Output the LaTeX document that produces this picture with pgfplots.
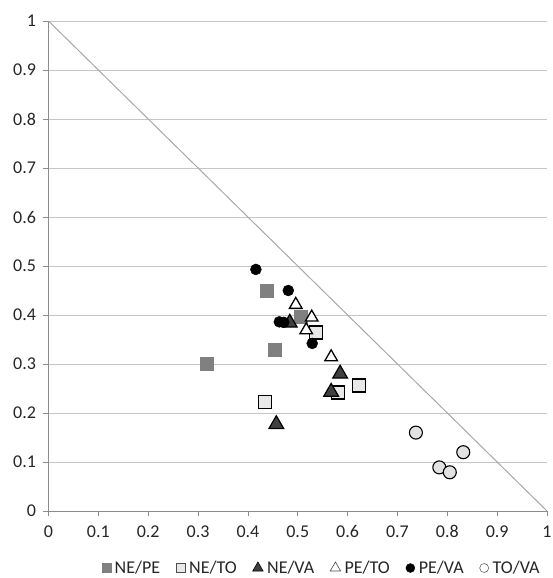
\documentclass[border=0pt]{standalone}
\usepackage{pgfplots}
\pgfplotsset{compat=1.18}
\usepackage{fontspec}
\setmainfont{Carlito}
\definecolor{gridc}{HTML}{C6C6C6}
\definecolor{axc}{HTML}{8C8C8C}
\definecolor{diagc}{HTML}{A8A8A8}
\definecolor{nepe}{HTML}{808080}
\definecolor{neto}{HTML}{E8E8E8}
\definecolor{neva}{HTML}{404040}
\definecolor{tova}{HTML}{E2E2E2}
\begin{document}
\begin{tikzpicture}
\useasboundingbox (-48.5pt,-67pt) rectangle (503.5pt,511pt);
\begin{axis}[
  scale only axis,
  width=498.5pt, height=490pt,
  xmin=0, xmax=1, ymin=0, ymax=1,
  axis lines*=left,
  axis line style={axc, line width=0.8pt},
  xtick={0,0.1,0.2,0.3,0.4,0.5,0.6,0.7,0.8,0.9,1},
  ytick={0,0.1,0.2,0.3,0.4,0.5,0.6,0.7,0.8,0.9,1},
  tick align=outside,
  major tick length=5pt,
  tick style={axc, line width=0.8pt},
  ymajorgrids,
  grid style={gridc, line width=0.8pt},
  /pgf/number format/assume math mode=true,
  ticklabel style={font=\fontsize{18}{21}\selectfont, text=black!85},
  yticklabel style={xshift=-4pt},
  xticklabel style={yshift=-6pt},
  clip=false,
  legend columns=6,
  legend style={draw=none, fill=none, at={(0.548,0)}, yshift=-57pt, anchor=center,
    font=\fontsize{18}{21}\selectfont, text=black!85,
    /tikz/every even column/.append style={column sep=14pt},
    /tikz/every odd column/.append style={column sep=2pt},
    inner sep=0pt},
  legend cell align=left,
]
\addplot[diagc, line width=1pt, forget plot] coordinates {(0,1) (1,0)};
% NE/PE
\addplot[only marks, mark=square*, mark size=6.5pt, mark options={fill=nepe, draw=nepe},
  legend image post style={mark size=4.5pt}] coordinates {
(0.438,0.449) (0.505,0.397) (0.454,0.330) (0.317,0.300)};
\addlegendentry{NE/PE}
% NE/TO
\addplot[only marks, mark=square*, mark size=6.5pt, mark options={fill=neto, draw=black, line width=1.4pt},
  legend image post style={mark size=4.5pt, mark options={fill=neto, draw=black!70, line width=0.6pt}}] coordinates {
(0.537,0.364) (0.581,0.242) (0.623,0.256) (0.434,0.222)};
\addlegendentry{NE/TO}
% NE/VA
\addplot[only marks, mark=triangle*, mark size=8.5pt, mark options={fill=neva, draw=black, line width=1.2pt},
  legend image post style={mark size=6pt, mark options={fill=neva, draw=black, line width=0.6pt}}] coordinates {
(0.484,0.384) (0.585,0.280) (0.567,0.243) (0.457,0.177)};
\addlegendentry{NE/VA}
% PE/TO
\addplot[only marks, mark=triangle*, mark size=7.3pt, mark options={fill=white, draw=black, line width=1.3pt},
  legend image post style={mark size=6pt, mark options={fill=white, draw=black!70, line width=0.6pt}}] coordinates {
(0.496,0.421) (0.528,0.395) (0.517,0.369) (0.567,0.314)};
\addlegendentry{PE/TO}
% PE/VA
\addplot[only marks, mark=*, mark size=5.5pt, mark options={fill=black, draw=black},
  legend image post style={mark size=4.5pt}] coordinates {
(0.416,0.493) (0.481,0.450) (0.463,0.386) (0.472,0.385) (0.529,0.342)};
\addlegendentry{PE/VA}
% TO/VA
\addplot[only marks, mark=*, mark size=6.5pt, mark options={fill=tova, draw=black, line width=1.1pt},
  legend image post style={mark size=4.5pt, mark options={fill=white, draw=black!60, line width=0.6pt}}] coordinates {
(0.737,0.160) (0.832,0.120) (0.784,0.089) (0.805,0.079)};
\addlegendentry{TO/VA}
\end{axis}
\end{tikzpicture}
\end{document}
